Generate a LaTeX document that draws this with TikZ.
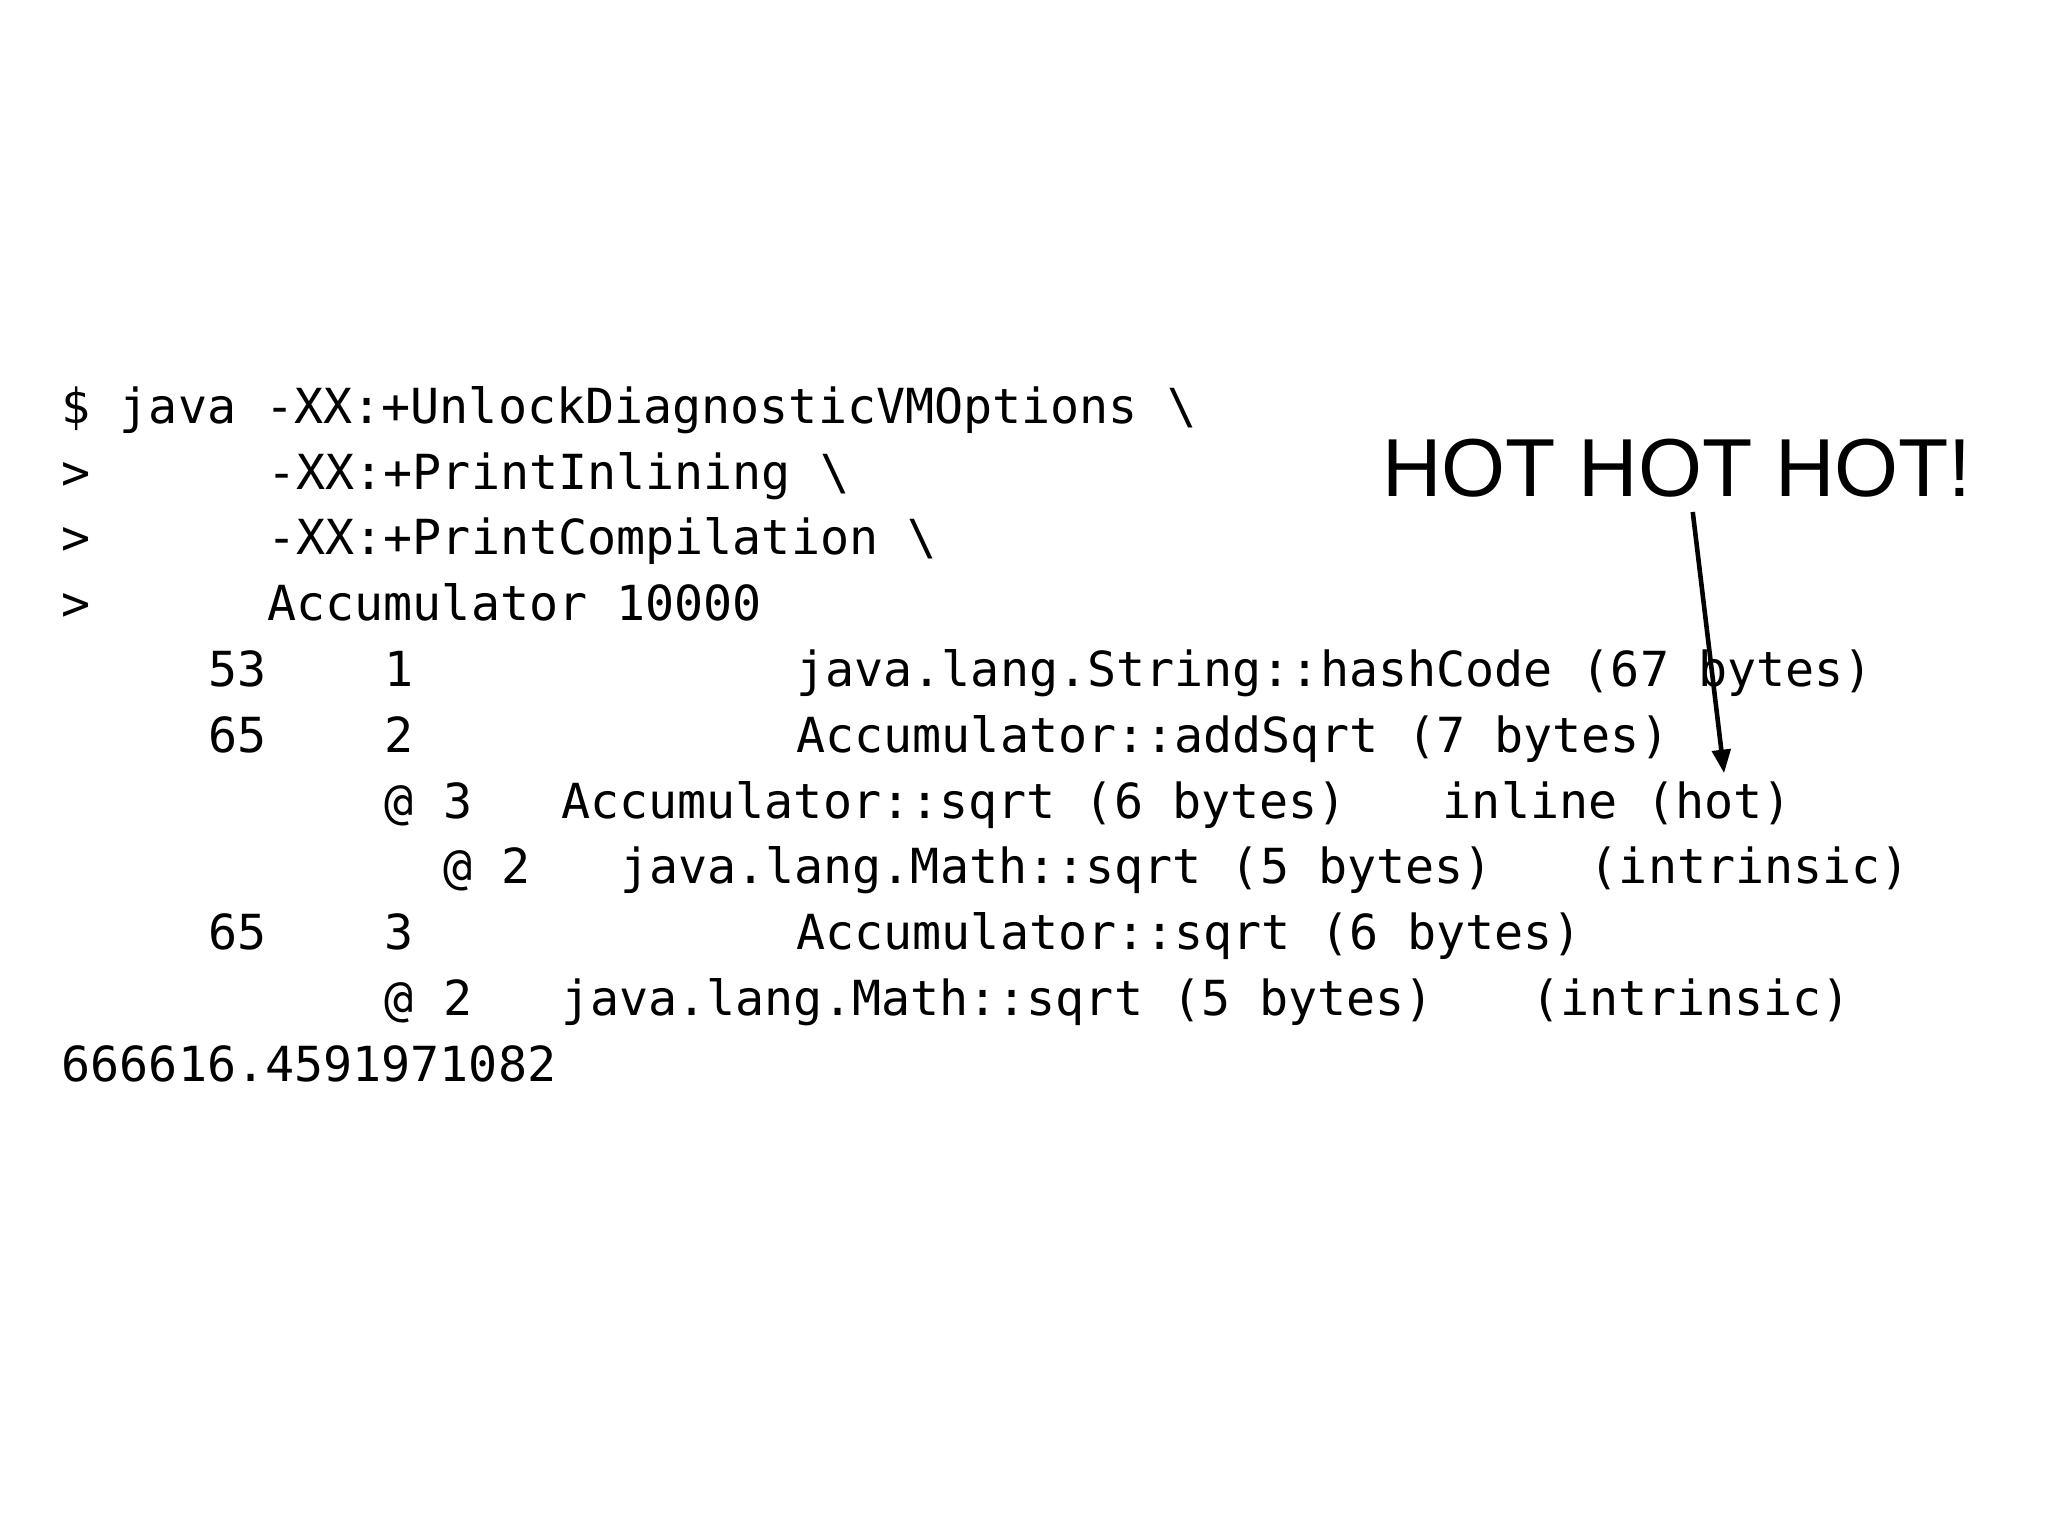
\documentclass[tikz,border=0pt]{standalone}
\usepackage{fontspec}
\setmonofont{DejaVu Sans Mono}
\setsansfont{Liberation Sans}
\usetikzlibrary{arrows.meta}
\tikzset{code/.style={anchor=base west,inner sep=0pt,font=\ttfamily\fontsize{37}{37}\selectfont},
hot/.style={anchor=base west,inner sep=0pt,font=\sffamily\fontsize{63}{63}\selectfont}}
\newcommand{\seg}[4]{\node[code] (#1) at ({47+22.5*#2},{1176-#3}) {#4};}
\begin{document}
\begin{tikzpicture}[x=1pt,y=1pt]
\useasboundingbox (0,0) rectangle (1568,1176);
\seg{a1}{0}{324}{\$ java -XX:+UnlockDiagnosticVMOptions \textbackslash}
\seg{a2}{0}{374.4}{>}
\seg{a2b}{7}{374.4}{-XX:+PrintInlining \textbackslash}
\seg{a3}{0}{424.8}{>}
\seg{a3b}{7}{424.8}{-XX:+PrintCompilation \textbackslash}
\seg{a4}{0}{475.2}{>}
\seg{a4b}{7}{475.2}{Accumulator 10000}
\seg{b1}{5}{525.6}{53}
\seg{b1b}{11}{525.6}{1}
\seg{b1c}{25}{525.6}{java.lang.String::hashCode (67 bytes)}
\seg{b2}{5}{576}{65}
\seg{b2b}{11}{576}{2}
\seg{b2c}{25}{576}{Accumulator::addSqrt (7 bytes)}
\seg{b3}{11}{626.4}{@ 3}
\seg{b3b}{17}{626.4}{Accumulator::sqrt (6 bytes)}
\seg{b3c}{47}{626.4}{inline (hot)}
\seg{b4}{13}{676.8}{@ 2}
\seg{b4b}{19}{676.8}{java.lang.Math::sqrt (5 bytes)}
\seg{b4c}{52}{676.8}{(intrinsic)}
\seg{b5}{5}{727.2}{65}
\seg{b5b}{11}{727.2}{3}
\seg{b5c}{25}{727.2}{Accumulator::sqrt (6 bytes)}
\seg{b6}{11}{777.6}{@ 2}
\seg{b6b}{17}{777.6}{java.lang.Math::sqrt (5 bytes)}
\seg{b6c}{50}{777.6}{(intrinsic)}
\seg{c1}{0}{828}{666616.4591971082}
\node[hot] (hot) at (1058,{1176-380}) {HOT HOT HOT!};
\coordinate (tail) at (1296,{1176-392});
\coordinate (tip) at (1320,{1176-592});
\draw[line width=3.5pt,-{Triangle[length=18pt,width=14pt]}] (tail) -- (tip);
\end{tikzpicture}
\end{document}
